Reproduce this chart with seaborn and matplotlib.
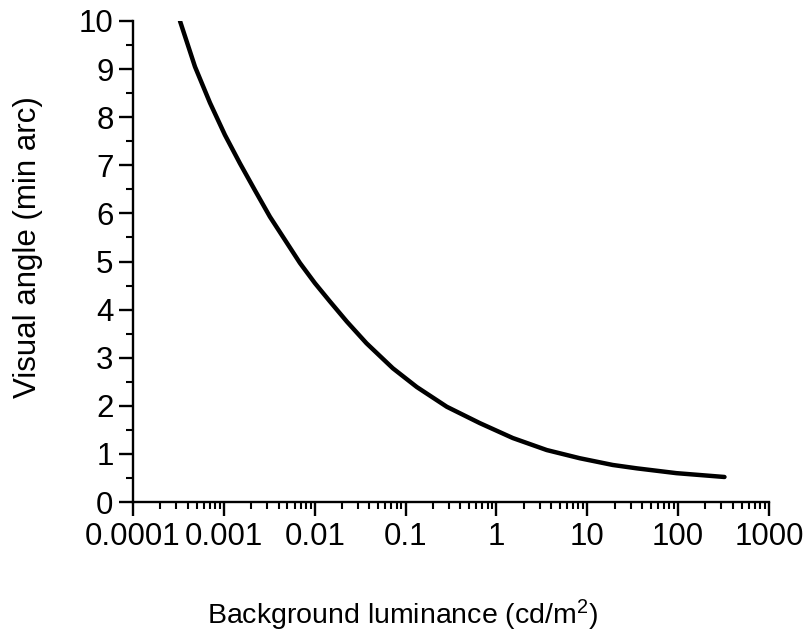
import numpy as np
import pandas as pd
import matplotlib
matplotlib.use("Agg")
import matplotlib.pyplot as plt
import matplotlib.ticker as mticker
import seaborn as sns

# ==================================================
# DATA
# ==================================================

luminance = [
    0.000329, 0.000481, 0.000703, 0.001028, 0.001503, 0.002198,
    0.003214, 0.004699, 0.006871, 0.010046, 0.01469, 0.02259,
    0.03715, 0.07244, 0.1330, 0.2844, 0.6561, 1.514,
    3.581, 8.260, 19.05, 34.99, 95.5, 323.6
]

visual_angle = [
    10.0, 9.05, 8.30, 7.63, 7.04, 6.48,
    5.93, 5.45, 4.97, 4.55, 4.17, 3.75,
    3.30, 2.78, 2.39, 1.98, 1.64, 1.33,
    1.08, 0.91, 0.77, 0.70, 0.60, 0.52
]

x_ticks = [0.0001, 0.001, 0.01, 0.1, 1, 10, 100, 1000]
x_tick_labels = ["0.0001", "0.001", "0.01", "0.1", "1", "10", "100", "1000"]
y_ticks = list(range(0, 11))

df = pd.DataFrame({"luminance": luminance, "angle": visual_angle})

# ==================================================
# STYLE
# ==================================================

sns.set_theme(style="ticks")
plt.rcParams["font.family"] = ["Liberation Sans", "DejaVu Sans"]
plt.rcParams["mathtext.fontset"] = "custom"
plt.rcParams["mathtext.rm"] = "Liberation Sans"
plt.rcParams["mathtext.default"] = "regular"

fig = plt.figure(figsize=(8.09, 6.42), dpi=100)
ax = fig.add_axes([133 / 809, 1 - 502 / 642, 636 / 809, 481 / 642])

# ==================================================
# PLOT
# ==================================================

sns.lineplot(
    data=df,
    x="luminance",
    y="angle",
    color="black",
    linewidth=3.2,
    sort=False,
    estimator=None,
    ax=ax
)

ax.set_xscale("log")
ax.set_xlim(1e-4, 1e3)
ax.set_ylim(0, 10)

ax.set_xticks(x_ticks)
ax.set_xticklabels(x_tick_labels)
ax.xaxis.set_minor_locator(
    mticker.LogLocator(base=10, subs=np.arange(2, 10), numticks=20)
)
ax.xaxis.set_minor_formatter(mticker.NullFormatter())

ax.set_yticks(y_ticks)
ax.yaxis.set_minor_locator(mticker.MultipleLocator(0.5))

for side in ["top", "right"]:
    ax.spines[side].set_visible(False)
for side in ["left", "bottom"]:
    ax.spines[side].set_linewidth(1.7)
    ax.spines[side].set_color("black")

ax.tick_params(axis="both", which="major", direction="out", length=10,
               width=1.7, color="black", labelsize=22.5, labelcolor="black")
ax.tick_params(axis="both", which="minor", direction="out", length=5,
               width=1.5, color="black")
ax.tick_params(axis="x", which="major", pad=4.5)
ax.tick_params(axis="y", which="major", pad=4)

ax.set_xlabel("Background luminance (cd/m$^{2}$)", fontsize=20.5, color="black")
ax.set_ylabel("Visual angle (min arc)", fontsize=22.5, color="black")
ax.xaxis.set_label_coords(0.423, -0.2)
ax.yaxis.set_label_coords(-0.1415, 0.53)

ax.grid(False)
ax.set_facecolor("white")
fig.patch.set_facecolor("white")

fig.savefig("out.png", dpi=100)
plt.close(fig)
